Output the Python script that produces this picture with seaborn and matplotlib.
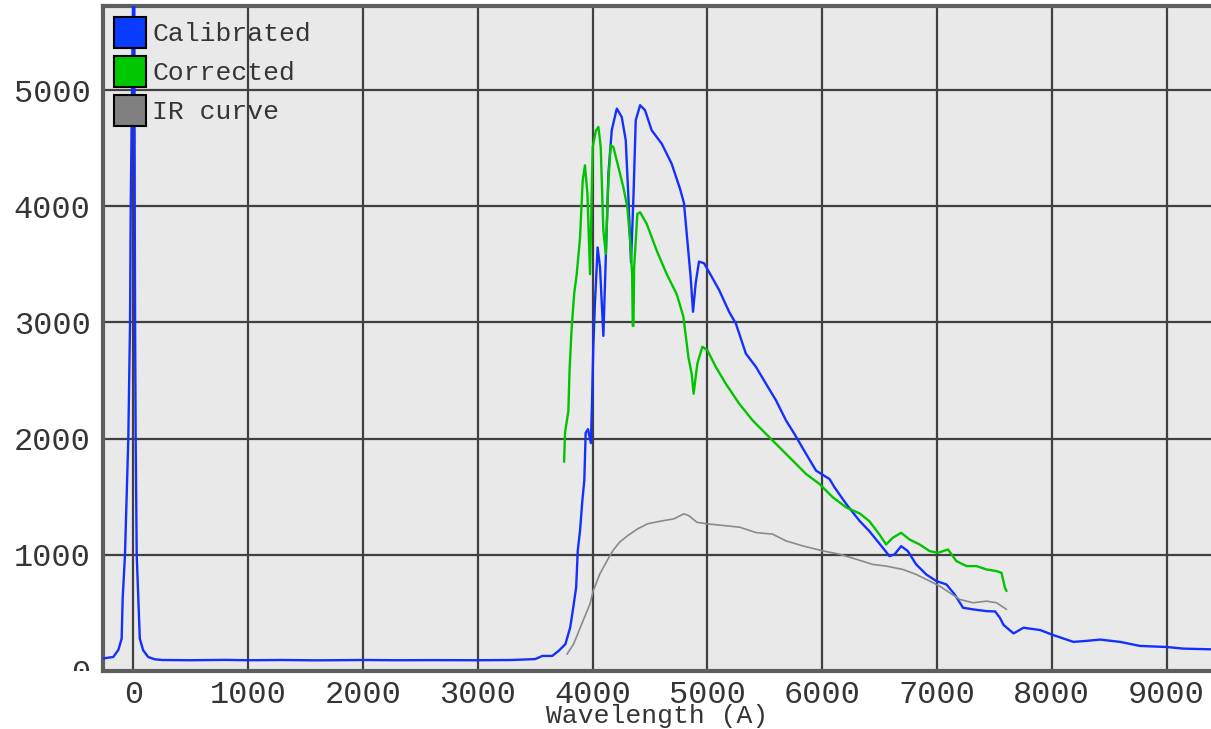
import matplotlib
matplotlib.use("Agg")
import matplotlib.pyplot as plt
from matplotlib.patches import Patch
from matplotlib.transforms import Bbox, TransformedBbox
import pandas as pd
import seaborn as sns

# Calibrated spectrum (blue)
calib_wl = [-267, -175, -130, -102, -93, -73, -44, -29, -23, -12, 0, 8, 12, 15, 20, 29, 44, 56,
            85, 129, 187, 250, 500, 800, 1000, 1300, 1600, 2000, 2300, 2600, 3000, 3300, 3500,
            3562, 3648, 3705, 3763, 3805, 3834, 3857, 3871, 3891, 3911, 3928, 3940, 3960, 3985,
            3995, 4006, 4020, 4044, 4065, 4094, 4109, 4138, 4167, 4211, 4254, 4289, 4312, 4335,
            4356, 4376, 4414, 4457, 4515, 4602, 4689, 4762, 4796, 4825, 4854, 4875, 4898, 4927,
            4971, 5029, 5102, 5189, 5248, 5335, 5423, 5510, 5598, 5685, 5758, 5860, 5947, 6064,
            6108, 6210, 6326, 6411, 6528, 6586, 6630, 6688, 6746, 6819, 6907, 6994, 7082, 7154,
            7227, 7315, 7431, 7507, 7548, 7580, 7667, 7754, 7899, 8015, 8189, 8305, 8421, 8595,
            8769, 9001, 9146, 9388]
calib_flux = [105, 118, 180, 277, 625, 1000, 2000, 3000, 4000, 5000, 5950, 5950, 4000, 3000, 2000,
              1000, 600, 277, 176, 118, 98, 92, 90, 93, 90, 92, 89, 92, 90, 91, 90, 92, 100,
              127, 127, 171, 228, 372, 559, 718, 1035, 1207, 1466, 1639, 2050, 2080, 1960,
              2300, 2780, 3150, 3646, 3474, 2884, 3359, 4280, 4655, 4842, 4770, 4569, 4079, 3517,
              4079, 4741, 4871, 4828, 4655, 4540, 4367, 4150, 4029, 3712, 3395, 3092, 3337, 3524,
              3510, 3409, 3280, 3092, 2991, 2732, 2617, 2473, 2328, 2156, 2040, 1867, 1723, 1651,
              1579, 1435, 1290, 1202, 1059, 987, 1001, 1073, 1030, 915, 829, 772, 743, 657,
              542, 528, 513, 510, 456, 394, 321, 370, 350, 306, 248, 257, 268, 248,
              213, 204, 190, 184]

# Corrected spectrum (green)
corr_wl = [3752, 3760, 3789, 3800, 3818, 3840, 3862, 3891, 3914, 3934, 3955, 3978, 4001, 4030,
           4051, 4071, 4094, 4115, 4138, 4158, 4181, 4225, 4268, 4303, 4332, 4345, 4350, 4356,
           4362, 4390, 4414, 4472, 4559, 4646, 4733, 4791, 4835, 4864, 4880, 4913, 4956, 5000,
           5073, 5160, 5277, 5394, 5510, 5627, 5743, 5860, 5977, 6093, 6210, 6326, 6411, 6499,
           6557, 6615, 6688, 6761, 6849, 6936, 7009, 7096, 7169, 7257, 7344, 7431, 7519, 7562,
           7592, 7606]
corr_flux = [1800, 2050, 2236, 2600, 2956, 3250, 3416, 3733, 4223, 4353, 4108, 3416, 4511, 4655,
             4684, 4511, 3791, 3589, 4223, 4526, 4511, 4338, 4165, 3992, 3646, 3400, 2970, 2970,
             3474, 3935, 3949, 3848, 3618, 3416, 3243, 3050, 2700, 2552, 2386, 2646, 2790, 2761,
             2617, 2473, 2300, 2156, 2040, 1925, 1810, 1694, 1608, 1493, 1406, 1355, 1288, 1173,
             1087, 1145, 1188, 1130, 1087, 1030, 1016, 1044, 944, 901, 901, 872, 858, 843,
             714, 686]

# IR curve (gray)
ir_wl = [3777, 3834, 3905, 3977, 4006, 4063, 4135, 4178, 4235, 4307, 4393, 4478, 4593, 4708,
         4794, 4837, 4908, 4994, 5137, 5281, 5423, 5568, 5685, 5831, 6006, 6151, 6297, 6441,
         6557, 6703, 6819, 6936, 7023, 7111, 7198, 7315, 7431, 7519, 7606]
ir_flux = [142, 228, 401, 574, 689, 833, 963, 1035, 1107, 1164, 1222, 1265, 1288, 1308,
           1351, 1337, 1279, 1265, 1251, 1236, 1190, 1176, 1118, 1075, 1032, 1003, 960, 915,
           901, 872, 829, 772, 729, 671, 614, 585, 599, 585, 528]

series_names = ["Calibrated", "Corrected", "IR curve"]
line_colors = {"Calibrated": "#1430ff", "Corrected": "#00c400", "IR curve": "#8a8a8a"}
box_colors = ["#0a3cff", "#00c800", "#808080"]
line_widths = {"Calibrated": 1.7, "Corrected": 1.7, "IR curve": 1.2}

x_ticks = [0, 1000, 2000, 3000, 4000, 5000, 6000, 7000, 8000, 9000]
y_ticks = [0, 1000, 2000, 3000, 4000, 5000]

df = pd.concat([
    pd.DataFrame({"wl": calib_wl, "flux": calib_flux, "series": "Calibrated"}),
    pd.DataFrame({"wl": corr_wl, "flux": corr_flux, "series": "Corrected"}),
    pd.DataFrame({"wl": ir_wl, "flux": ir_flux, "series": "IR curve"}),
])

sns.set_style("white", rc={"axes.facecolor": "#e9e9e9"})
plt.rcParams["font.family"] = ["Liberation Mono", "DejaVu Sans Mono"]

fig = plt.figure(figsize=(12.11, 7.29), dpi=100)
ax = fig.add_axes([0.0851, 0.0800, 0.915, 0.9118])

for name in series_names:
    sns.lineplot(data=df[df["series"] == name], x="wl", y="flux", color=line_colors[name],
                 lw=line_widths[name], sort=False, estimator=None, ax=ax, zorder=3)

ax.set_xlim(-264, 9388)
ax.set_ylim(0, 5726)
ax.set_xticks(x_ticks)
ax.set_yticks(y_ticks)
ax.grid(True, color="#404040", lw=1.6)
ax.set_axisbelow(True)

for side in ["left", "top", "bottom"]:
    ax.spines[side].set_color("#5e5e5e")
    ax.spines[side].set_linewidth(3)
ax.spines["right"].set_visible(False)

ax.tick_params(axis="both", length=0, labelsize=23, labelcolor="#353535")
ax.tick_params(axis="y", pad=9)
ax.tick_params(axis="x", pad=7)
ax.set_xlabel("Wavelength (A)", fontsize=19, color="#353535", labelpad=-4.5)
ax.set_ylabel("")

# the "0" label is cut off at the lower frame in the original
clip = TransformedBbox(Bbox([[0, 0.080], [0.1, 1]]), fig.transFigure)
zero_tick = ax.yaxis.get_major_ticks()[0]
zero_tick.label1.set_clip_box(clip)
zero_tick.label1.set_clip_on(True)

handles = [Patch(facecolor=c, edgecolor="black", lw=1.5) for c in box_colors]
ax.legend(handles, series_names, loc="upper left", frameon=False, fontsize=19,
          handlelength=1.2, handleheight=1.4, handletextpad=0.25, labelspacing=0.33,
          borderaxespad=0, borderpad=0.42, labelcolor="#353535")

plt.savefig("out.png", dpi=100)
plt.close()
